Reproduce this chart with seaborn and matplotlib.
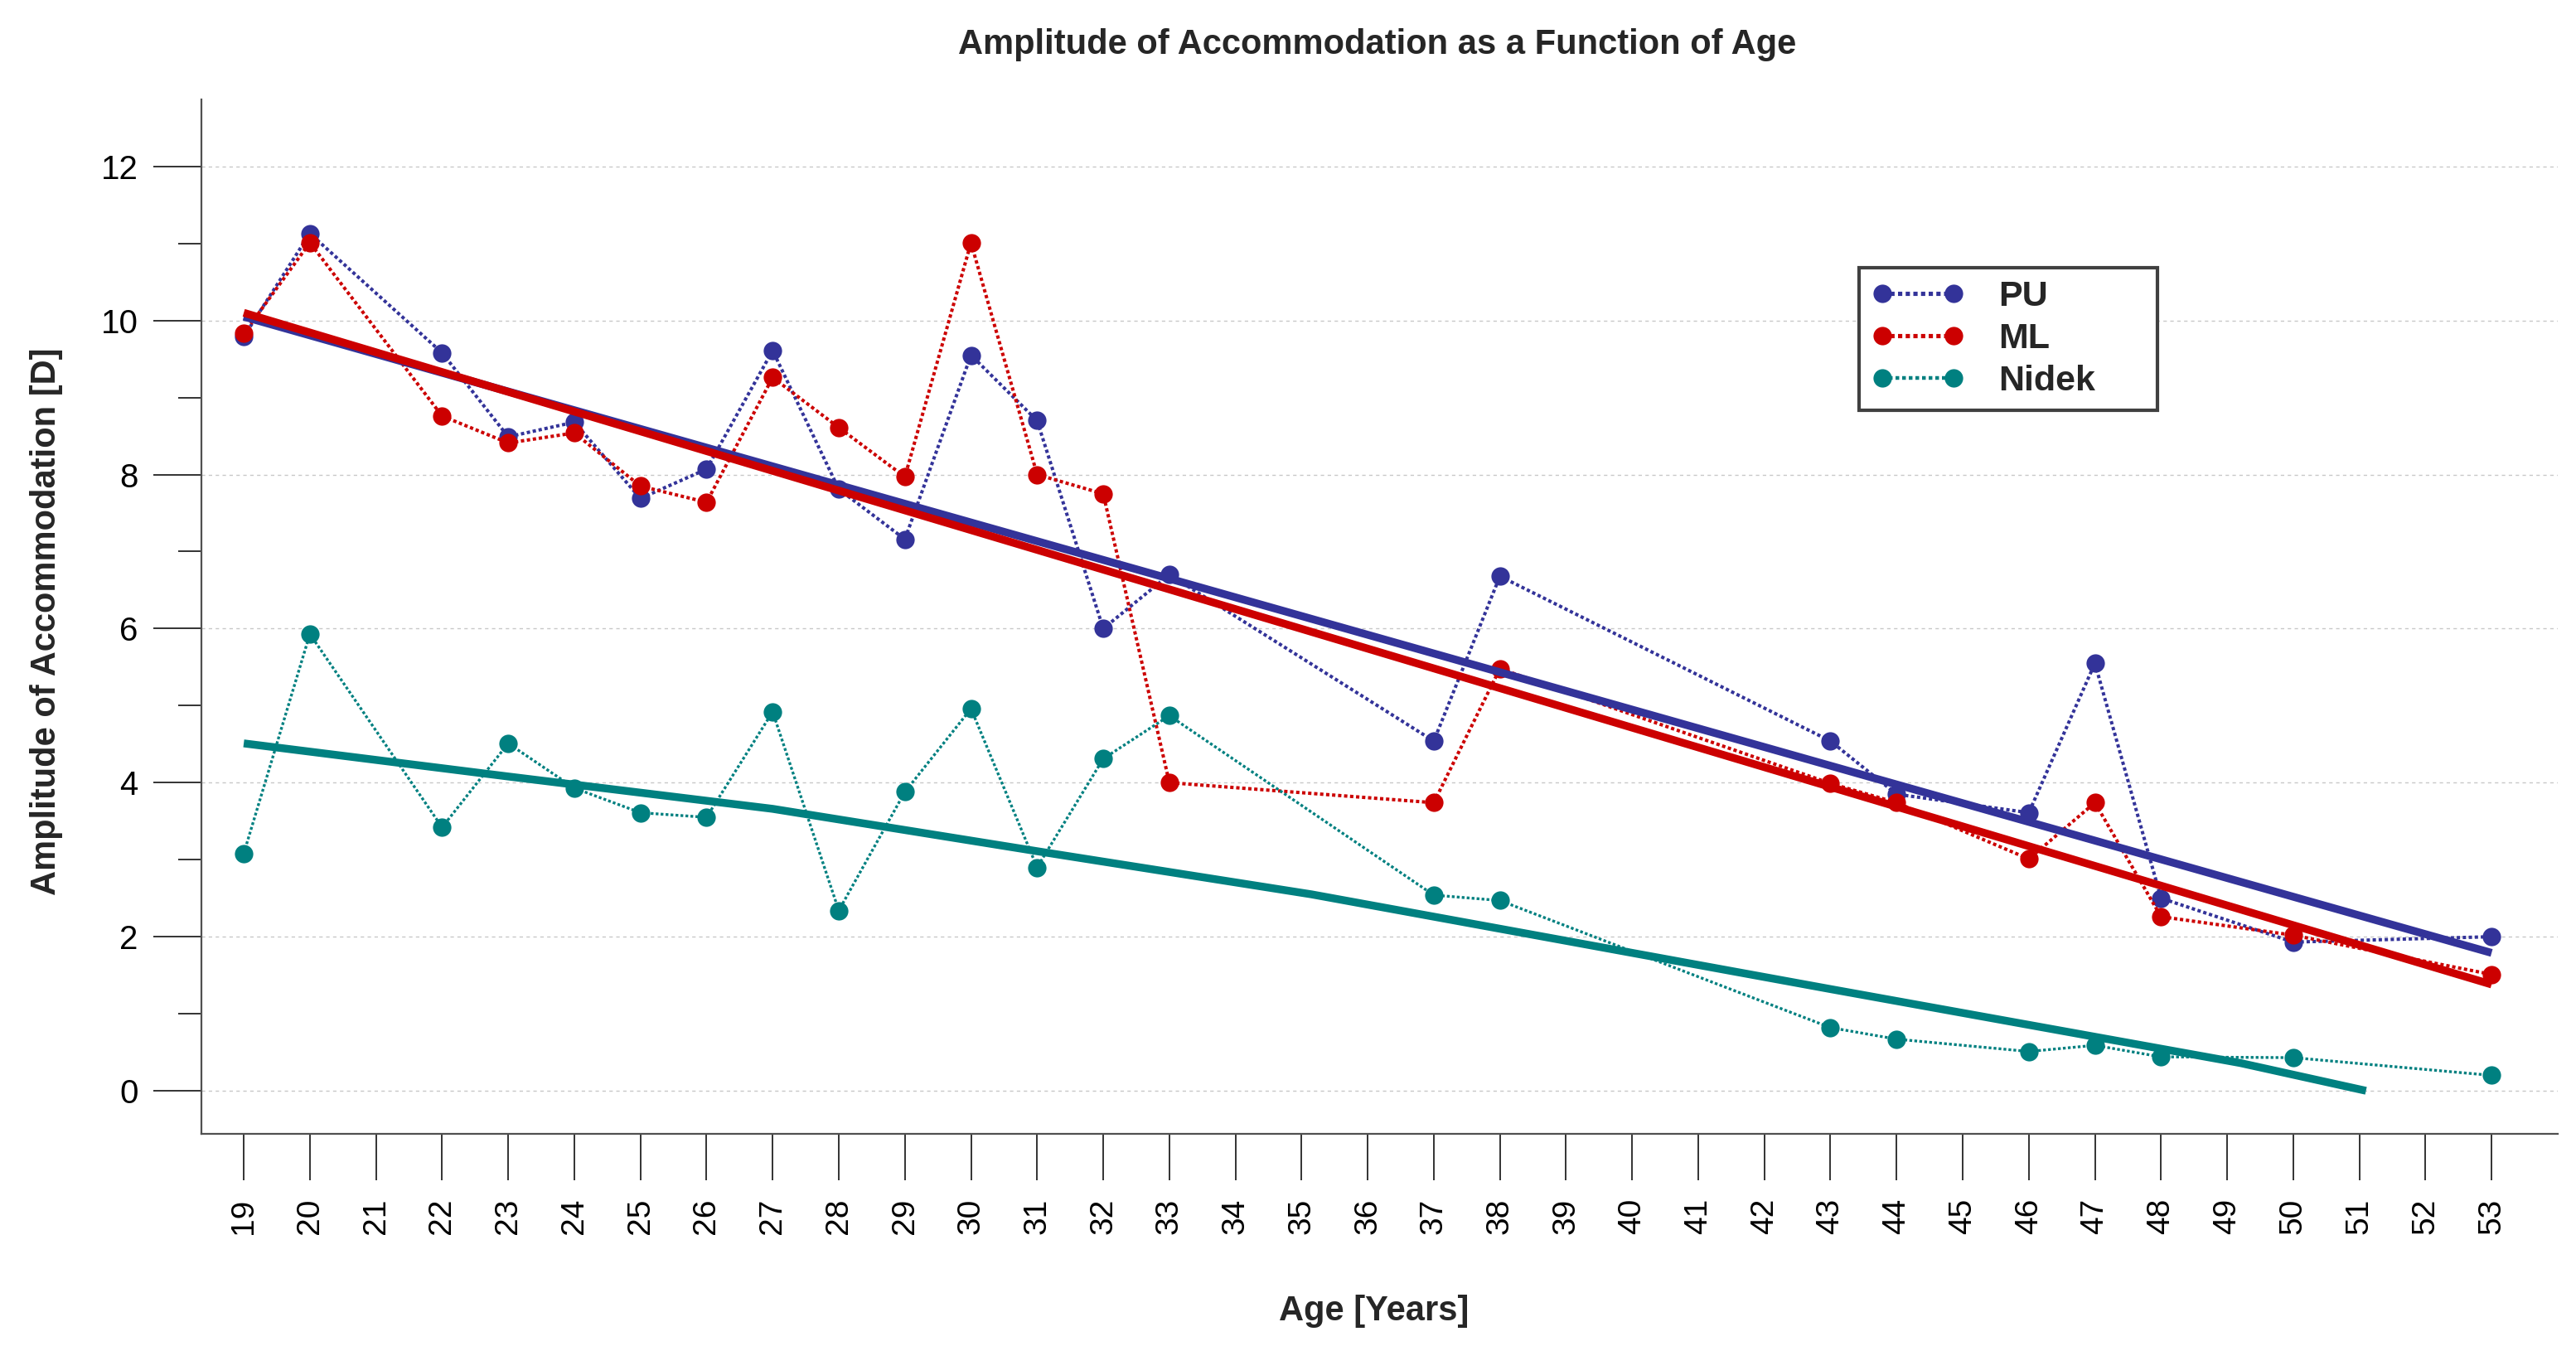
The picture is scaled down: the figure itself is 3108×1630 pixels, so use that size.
import numpy as np
import pandas as pd
import matplotlib
matplotlib.use("Agg")
import matplotlib.pyplot as plt
import seaborn as sns
from matplotlib.lines import Line2D
from matplotlib.ticker import MultipleLocator

# ---------------- data ----------------
ages = [19, 20, 22, 23, 24, 25, 26, 27, 28, 29, 30, 31, 32, 33, 37, 38, 43, 44, 46, 47, 48, 50, 53]
pu = [9.79, 11.13, 9.58, 8.49, 8.68, 7.69, 8.07, 9.61, 7.81, 7.16, 9.55, 8.70, 6.00, 6.70,
      4.54, 6.68, 4.54, 3.85, 3.61, 5.55, 2.50, 1.93, 2.00]
ml = [9.83, 11.01, 8.76, 8.41, 8.54, 7.85, 7.64, 9.26, 8.61, 7.97, 11.01, 8.00, 7.75, 4.00,
      3.74, 5.48, 3.99, 3.74, 3.01, 3.74, 2.26, 2.02, 1.51]
nidek = [3.08, 5.93, 3.42, 4.51, 3.93, 3.61, 3.55, 4.92, 2.34, 3.88, 4.96, 2.90, 4.31, 4.87,
         2.54, 2.47, 0.82, 0.67, 0.51, 0.59, 0.44, 0.43, 0.20]

trend_x = [19, 53]
pu_trend = [10.05, 1.79]
ml_trend = [10.10, 1.38]
nidek_trend_x = [19, 23, 27, 31, 35.15, 43, 49.2, 51.1]
nidek_trend_y = [4.51, 4.08, 3.66, 3.11, 2.55, 1.32, 0.36, 0.0]

series_names = ["PU", "ML", "Nidek"]
colors = {"PU": "#333399", "ML": "#CC0000", "Nidek": "#008080"}
x_tick_labels = [str(a) for a in range(19, 54)]
y_ticks = [0, 2, 4, 6, 8, 10, 12]

# ---------------- style ----------------
sns.set_theme(style="white")
plt.rcParams["font.family"] = ["Liberation Sans", "DejaVu Sans"]

fig = plt.figure(figsize=(15.54, 8.15), dpi=200)
ax = fig.add_axes([0.0782, 0.1607, 0.9147, 0.7657])

series_vals = {"PU": pu, "ML": ml, "Nidek": nidek}
line_w = {"PU": 1.45, "ML": 1.45, "Nidek": 1.2}
msize = 8
handles = []
for name in series_names:
    sns.lineplot(x=ages, y=series_vals[name], ax=ax, color=colors[name],
                 marker="o", markersize=msize, markeredgewidth=0,
                 linewidth=line_w[name], sort=False, estimator=None, zorder=3)
    ln = ax.lines[-1]
    ln.set_linestyle((0, (1.0, 0.8)))
    handles.append(Line2D([0], [0], color=colors[name], marker="o", markersize=msize,
                          markeredgewidth=0, linewidth=line_w[name] + 0.4,
                          linestyle=(0, (1.0, 0.8))))

sns.lineplot(x=trend_x, y=pu_trend, ax=ax, color=colors["PU"], linewidth=3.4,
             sort=False, estimator=None, zorder=4)
sns.lineplot(x=trend_x, y=ml_trend, ax=ax, color=colors["ML"], linewidth=3.4,
             sort=False, estimator=None, zorder=4)
sns.lineplot(x=nidek_trend_x, y=nidek_trend_y, ax=ax, color=colors["Nidek"], linewidth=3.4,
             sort=False, estimator=None, zorder=4)
for ln in ax.lines[-3:]:
    ln.set_solid_capstyle("butt")

# ---------------- axes ----------------
ax.set_xlim(18.36, 54.0)
ax.set_ylim(-0.56, 12.87)
ax.set_xticks(list(range(19, 54)))
ax.set_xticklabels(x_tick_labels, rotation=90, fontsize=14)
ax.set_yticks(y_ticks)
ax.set_yticklabels([str(v) for v in y_ticks], fontsize=14.5)
ax.yaxis.set_minor_locator(MultipleLocator(1))

ax.tick_params(axis="x", which="major", direction="out", length=20, width=0.7,
               color="#333333", pad=8, labelcolor="black", bottom=True)
ax.tick_params(axis="y", which="major", direction="out", length=21, width=0.7,
               color="#333333", pad=6.5, labelcolor="black", left=True)
ax.tick_params(axis="y", which="minor", direction="out", length=10, width=0.7,
               color="#333333", left=True)

for s in ["top", "right"]:
    ax.spines[s].set_visible(False)
for s in ["left", "bottom"]:
    ax.spines[s].set_color("#505050")
    ax.spines[s].set_linewidth(0.8)

ax.set_axisbelow(True)
ax.xaxis.grid(False)
ax.yaxis.grid(True, which="major", color="#c8c8c8", linestyle=(0, (3, 3)), linewidth=0.5)
ax.set_xlabel("")
ax.set_ylabel("")

# ---------------- texts ----------------
fig.text(0.5345, 0.960, "Amplitude of Accommodation as a Function of Age",
         ha="center", va="baseline", fontsize=15, fontweight="bold")
fig.text(0.5335, 0.0227, "Age [Years]", ha="center", va="baseline",
         fontsize=15, fontweight="bold")
fig.text(0.018, 0.540, "Amplitude of Accommodation [D]", ha="center", va="center",
         rotation=90, fontsize=15, fontweight="bold")

# ---------------- legend ----------------
leg = fig.legend(handles, series_names, loc="upper left",
                 bbox_to_anchor=(0.7217, 0.8018 - 0.1061, 0.1158, 0.1061),
                 bbox_transform=fig.transFigure, mode="expand", borderaxespad=0,
                 numpoints=2, handlelength=2.6, handletextpad=0.95,
                 borderpad=0.35, labelspacing=0.25, frameon=True, fancybox=False,
                 framealpha=1, edgecolor="#404040",
                 prop={"weight": "bold", "size": 15.5})
leg.get_frame().set_linewidth(1.5)

fig.savefig("out.png", dpi=200)
